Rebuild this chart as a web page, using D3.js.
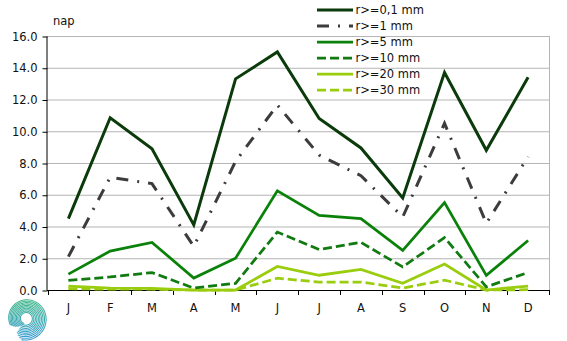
<!DOCTYPE html>
<html>
<head>
<meta charset="utf-8">
<script src="https://cdn.jsdelivr.net/npm/d3@7"></script>
<style>
  html, body { margin: 0; padding: 0; background: #fff; }
  svg { display: block; font-family: "DejaVu Sans", Verdana, sans-serif; }
</style>
</head>
<body>
<svg id="chart" width="567" height="341"></svg>
<script>
// Monthly number of days with precipitation above given thresholds
const months = ["J", "F", "M", "A", "M", "J", "J", "A", "S", "O", "N", "D"];
const yTicks = [0, 2, 4, 6, 8, 10, 12, 14, 16];
const seriesNames = ["r>=0,1 mm", "r>=1 mm", "r>=5 mm", "r>=10 mm", "r>=20 mm", "r>=30 mm"];
const r01 = [4.5, 10.85, 8.9, 4.1, 13.3, 15.0, 10.8, 8.95, 5.8, 13.7, 8.8, 13.4];
const r1  = [2.1, 7.1, 6.7, 2.75, 8.1, 11.65, 8.5, 7.2, 4.6, 10.5, 4.2, 8.4];
const r5  = [1.0, 2.45, 3.0, 0.75, 2.0, 6.25, 4.7, 4.5, 2.5, 5.5, 0.92, 3.12];
const r10 = [0.6, 0.82, 1.1, 0.12, 0.42, 3.65, 2.55, 3.0, 1.45, 3.3, 0.2, 1.1];
const r20 = [0.25, 0.12, 0.1, 0.0, 0.0, 1.48, 0.93, 1.3, 0.42, 1.63, 0.0, 0.25];
const r30 = [0.08, 0.05, 0.05, 0.0, 0.0, 0.74, 0.5, 0.5, 0.12, 0.62, 0.0, 0.02];

const styles = [
  { color: "#0b3b0b", width: 3,    dash: null },
  { color: "#3c3c3c", width: 3,    dash: "12,9,2,9" },
  { color: "#0a820a", width: 2.75, dash: null },
  { color: "#117a11", width: 2.75, dash: "9,4" },
  { color: "#9acd0e", width: 2.75, dash: null },
  { color: "#9acd0e", width: 2.75, dash: "9,4" }
];
const seriesData = [r01, r1, r5, r10, r20, r30];

const svg = d3.select("#chart");
const margin = { left: 47.5, right: 549, top: 36, bottom: 290 };

const x = d3.scaleBand().domain(d3.range(months.length))
  .range([margin.left, margin.right]).padding(0);
const y = d3.scaleLinear().domain([0, 16]).range([margin.bottom, margin.top]);

// horizontal gridlines
svg.append("g").selectAll("line").data(yTicks.filter(d => d > 0)).join("line")
  .attr("x1", margin.left).attr("x2", margin.right)
  .attr("y1", d => y(d) + 0.5).attr("y2", d => y(d) + 0.5)
  .attr("stroke", "#b5b5b5").attr("stroke-width", 1);

// right border of plot area
svg.append("line")
  .attr("x1", margin.right + 0.5).attr("x2", margin.right + 0.5)
  .attr("y1", margin.top).attr("y2", margin.bottom)
  .attr("stroke", "#b5b5b5");

// y axis
const yAxis = d3.axisLeft(y).tickValues(yTicks).tickFormat(d3.format(".1f")).tickSize(5).tickPadding(5);
const gy = svg.append("g").attr("transform", `translate(${margin.left},0.5)`).call(yAxis);
gy.select(".domain").attr("stroke", "#000").attr("d", `M-0.5,${margin.top}V${margin.bottom}`);
gy.selectAll(".tick line").attr("stroke", "#000");
gy.selectAll("text").attr("font-size", 11.5).attr("fill", "#111")
  .attr("font-family", "DejaVu Sans, Verdana, sans-serif");

// x axis: ticks at category boundaries
const boundaries = d3.range(months.length + 1).map(i => margin.left + i * x.bandwidth());
const gx = svg.append("g");
gx.append("line").attr("x1", margin.left - 0.5).attr("x2", margin.right + 0.5)
  .attr("y1", margin.bottom + 0.5).attr("y2", margin.bottom + 0.5).attr("stroke", "#000");
gx.selectAll("line.tk").data(boundaries).join("line").attr("class", "tk")
  .attr("x1", d => Math.round(d) + 0.5).attr("x2", d => Math.round(d) + 0.5)
  .attr("y1", margin.bottom).attr("y2", margin.bottom + 5).attr("stroke", "#000");
gx.selectAll("text").data(months).join("text")
  .attr("x", (d, i) => x(i) + x.bandwidth() / 2)
  .attr("y", 312)
  .attr("text-anchor", "middle").attr("font-size", 11.5).attr("fill", "#111")
  .text(d => d);

// unit label
svg.append("text").attr("x", 53).attr("y", 25).attr("font-size", 11.5).attr("fill", "#111").text("nap");

// series lines
const line = d3.line()
  .x((d, i) => x(i) + x.bandwidth() / 2)
  .y(d => y(d));

const gLines = svg.append("g");
seriesData.slice().reverse().forEach((vals, k) => {
  const idx = seriesData.length - 1 - k;
  const s = styles[idx];
  gLines.append("path").datum(vals)
    .attr("d", line)
    .attr("fill", "none")
    .attr("stroke", s.color)
    .attr("stroke-width", s.width)
    .attr("stroke-linejoin", "miter")
    .attr("stroke-dasharray", s.dash);
});

// legend
const legend = svg.append("g").attr("transform", "translate(317,0)");
seriesNames.forEach((name, i) => {
  const s = styles[i];
  const ly = 10 + i * 16;
  legend.append("line").attr("x1", 0).attr("x2", 36)
    .attr("y1", ly).attr("y2", ly)
    .attr("stroke", s.color).attr("stroke-width", s.width)
    .attr("stroke-dasharray", s.dash);
  legend.append("text").attr("x", 38.5).attr("y", ly + 4)
    .attr("font-size", 11.5).attr("fill", "#111").text(name);
});

// logo: striped swirl
const defs = svg.append("defs");
const grad = defs.append("linearGradient").attr("id", "swirl")
  .attr("gradientUnits", "userSpaceOnUse")
  .attr("x1", 0).attr("y1", 298).attr("x2", 0).attr("y2", 338);
grad.append("stop").attr("offset", "0%").attr("stop-color", "#41ba86");
grad.append("stop").attr("offset", "100%").attr("stop-color", "#3a9ed2");
const cx = 26, cy = 318.5;
const spiralLine = d3.line().curve(d3.curveBasis);
const logo = svg.append("g");
for (let k = 0; k < 10; k++) {
  const R = 5.8 + k * 1.4;
  const th0 = 2.15 - (k > 6 ? (k - 6) * 0.12 : 0);
  const th1 = -3.55 - (9 - k) * 0.09;
  const pts = d3.range(0, 81).map(j => {
    const t = j / 80;
    const th = th0 + (th1 - th0) * t;
    const r = R * (1.18 - 0.26 * t);
    return [cx + r * Math.cos(th), cy + r * Math.sin(th)];
  });
  logo.append("path").attr("d", spiralLine(pts))
    .attr("fill", "none").attr("stroke", "url(#swirl)")
    .attr("stroke-width", 1.05);
}
</script>
</body>
</html>
